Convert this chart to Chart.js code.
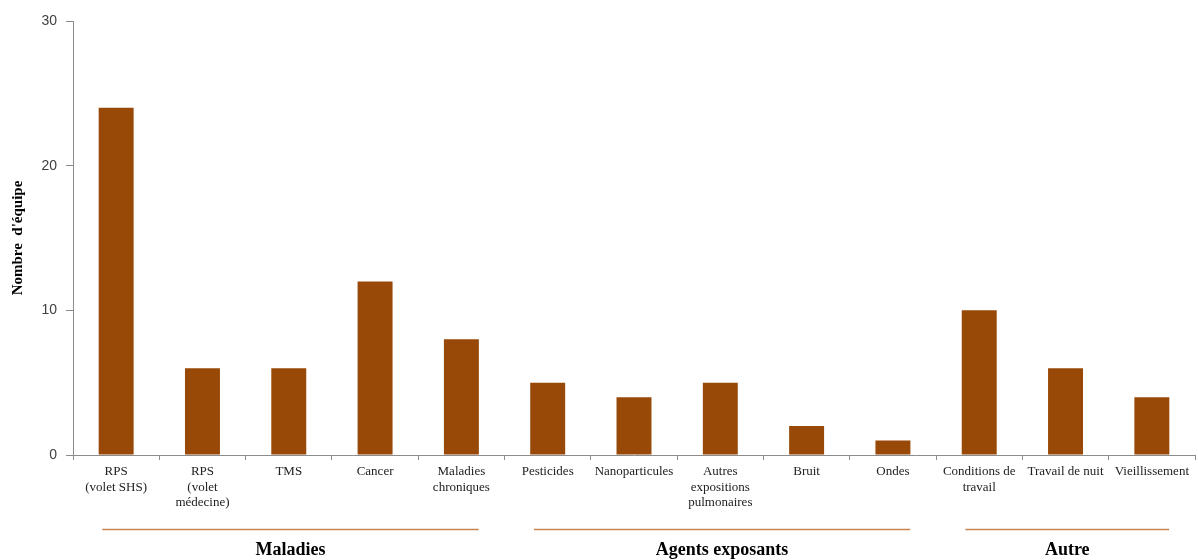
<!DOCTYPE html>
<html><head><meta charset="utf-8">
<script src="https://cdn.jsdelivr.net/npm/chart.js@4.4.0/dist/chart.umd.min.js"></script>
<style>html,body{margin:0;padding:0;background:#fff}#wrap{width:1198px;height:560px}</style>
</head><body><div id="wrap"><canvas id="c" width="1198" height="560"></canvas></div>
<script>
const categories = [
  ["RPS","(volet SHS)"],
  ["RPS","(volet","médecine)"],
  "TMS",
  "Cancer",
  ["Maladies","chroniques"],
  "Pesticides",
  "Nanoparticules",
  ["Autres","expositions","pulmonaires"],
  "Bruit",
  "Ondes",
  ["Conditions de","travail"],
  "Travail de nuit",
  "Vieillissement"
];
const values = [24, 6, 6, 12, 8, 5, 4, 5, 2, 1, 10, 6, 4];
const yTicks = [0, 10, 20, 30];
const groupNames = ["Maladies", "Agents exposants", "Autre"];
const groupStart = [0, 5, 10];
const groupEnd = [4, 9, 12];

const serif = "'Liberation Serif', 'Times New Roman', serif";
const sans = "'Liberation Sans', Arial, sans-serif";

const groupPlugin = {
  id: 'groups',
  afterDraw(chart) {
    const ctx = chart.ctx, x = chart.scales.x;
    const w = x.getPixelForValue(1) - x.getPixelForValue(0);
    ctx.save();
    groupNames.forEach((name, i) => {
      const a = x.getPixelForValue(groupStart[i]) - 0.16 * w;
      const b = x.getPixelForValue(groupEnd[i]) + 0.2 * w;
      ctx.strokeStyle = '#c6824f';
      ctx.lineWidth = 1.5;
      ctx.beginPath();
      ctx.moveTo(a, 529.5);
      ctx.lineTo(b, 529.5);
      ctx.stroke();
      ctx.fillStyle = '#000';
      ctx.font = "bold 18px " + serif;
      ctx.textAlign = 'center';
      ctx.textBaseline = 'middle';
      ctx.fillText(name, (a + b) / 2, 550);
    });
    ctx.restore();
  }
};

new Chart(document.getElementById('c'), {
  type: 'bar',
  data: {
    labels: categories,
    datasets: [{
      data: values,
      backgroundColor: '#984807',
      borderWidth: 0,
      categoryPercentage: 1,
      barPercentage: 0.405
    }]
  },
  options: {
    responsive: false,
    animation: false,
    layout: { padding: { top: 21, right: 3, left: 0, bottom: 0 } },
    plugins: { legend: { display: false }, tooltip: { enabled: false } },
    scales: {
      x: {
        offset: true,
        grid: { display: true, offset: true, drawOnChartArea: false, tickLength: 5, color: '#8c8c8c' },
        border: { color: '#8c8c8c' },
        ticks: { font: { family: serif, size: 13, lineHeight: 1.2 }, color: '#222', maxRotation: 0, autoSkip: false, padding: 4 },
        afterFit(s) { s.height = 105; }
      },
      y: {
        min: 0, max: 30,
        afterBuildTicks(s) { s.ticks = yTicks.map(v => ({ value: v })); },
        grid: { display: true, drawOnChartArea: false, tickLength: 7, color: '#8c8c8c' },
        border: { color: '#8c8c8c' },
        ticks: { font: { family: sans, size: 14 }, color: '#404040', padding: 9 },
        title: { display: true, text: "Nombre  d'équipe", font: { family: serif, size: 15, weight: 'bold' }, color: '#000', padding: { top: 9, bottom: 0 } },
        afterFit(s) { s.width = 73; }
      }
    }
  },
  plugins: [groupPlugin]
});
</script></body></html>
